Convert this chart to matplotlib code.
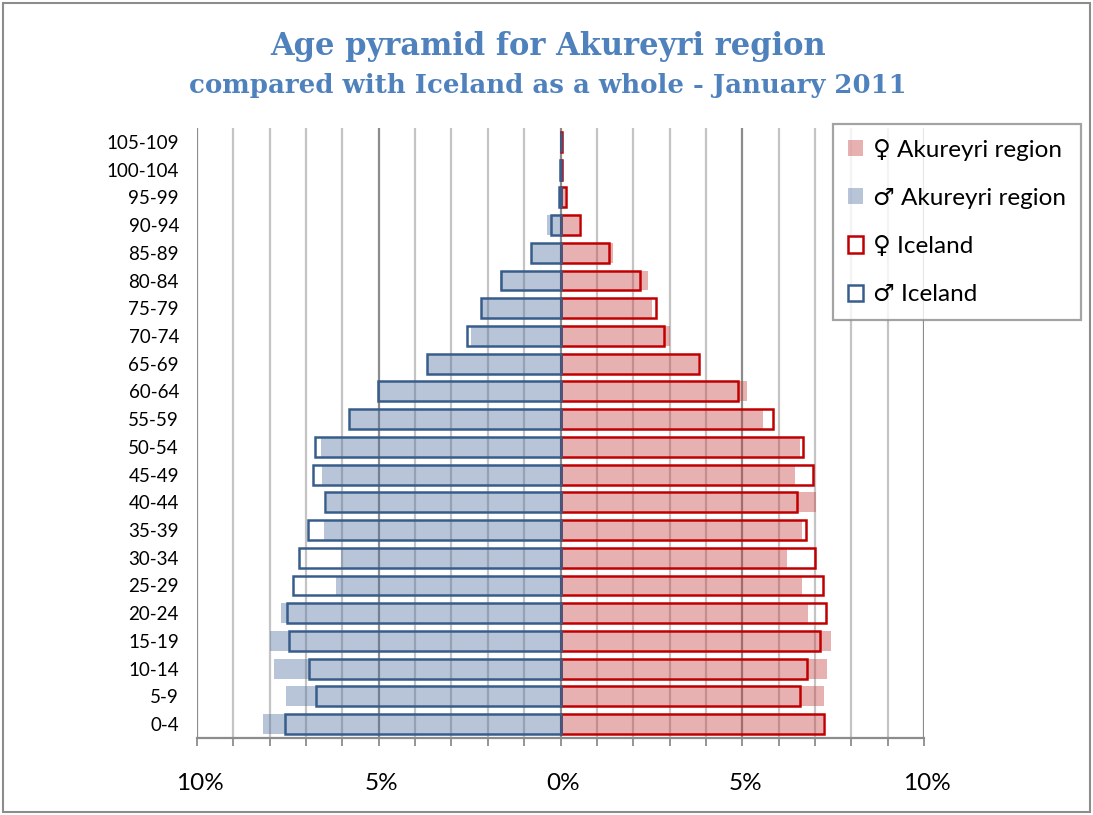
import numpy as np
import matplotlib
matplotlib.use('Agg')
import matplotlib.pyplot as plt
from matplotlib.patches import Patch, Rectangle
from matplotlib.transforms import ScaledTranslation

# Age groups, youngest first (bottom of the pyramid)
age_groups = ['0-4', '5-9', '10-14', '15-19', '20-24', '25-29', '30-34', '35-39',
              '40-44', '45-49', '50-54', '55-59', '60-64', '65-69', '70-74', '75-79',
              '80-84', '85-89', '90-94', '95-99', '100-104', '105-109']

# Share of population in %
akureyri_male = [8.18, 7.55, 7.88, 7.99, 7.69, 6.17, 6.05, 6.50, 6.43, 6.56, 6.58,
                 5.78, 5.02, 3.67, 2.46, 2.20, 1.67, 0.78, 0.37, 0.04, 0.02, 0.0]
iceland_male = [7.58, 6.72, 6.92, 7.46, 7.53, 7.37, 7.19, 6.95, 6.49, 6.81, 6.76,
                5.81, 5.02, 3.67, 2.57, 2.20, 1.63, 0.80, 0.26, 0.04, 0.01, 0.0]
akureyri_female = [7.22, 7.25, 7.33, 7.44, 6.80, 6.65, 6.23, 6.64, 7.04, 6.45, 6.59,
                   5.56, 5.12, 3.77, 3.00, 2.53, 2.40, 1.45, 0.50, 0.12, 0.03, 0.03]
iceland_female = [7.25, 6.58, 6.78, 7.14, 7.31, 7.21, 7.01, 6.76, 6.51, 6.95, 6.68,
                  5.84, 4.87, 3.81, 2.84, 2.62, 2.19, 1.33, 0.53, 0.14, 0.04, 0.05]

x_ticks = [-10, -5, 0, 5, 10]
x_tick_labels = ['10%', '5%', '0%', '5%', '10%']

# Cores
cor_fem_fill = (0.78, 0.24, 0.24)
cor_mas_fill = (0.31, 0.44, 0.62)
cor_fem_edge = '#C00000'
cor_mas_edge = '#385D8A'
cor_titulo = '#4F81BD'

plt.rcParams['font.family'] = ['Lato', 'DejaVu Sans']

fig = plt.figure(figsize=(10.93, 8.15), dpi=100)
ax = fig.add_axes([197 / 1093, 1 - 738 / 815, 727 / 1093, 610 / 815])

y = np.arange(len(age_groups))
h = 0.72

# Grid lines (every 1%, darker every 5%)
for v in range(-10, 11):
    cor = '#8C8C8C' if v % 5 == 0 else '#C4C4C4'
    ax.axvline(v, color=cor, lw=1.6, zorder=0)

# Akureyri (filled, semi transparent)
ax.barh(y, akureyri_female, height=h, color=cor_fem_fill, alpha=0.4, lw=0, zorder=1)
ax.barh(y, -np.array(akureyri_male), height=h, color=cor_mas_fill, alpha=0.4, lw=0, zorder=1)

# Iceland (outline only)
ax.barh(y, iceland_female, height=h, fill=False, edgecolor=cor_fem_edge, lw=1.8, zorder=2)
ax.barh(y, -np.array(iceland_male), height=h, fill=False, edgecolor=cor_mas_edge, lw=1.8, zorder=2)

ax.set_xlim(-10, 10)
ax.set_ylim(-0.5, len(age_groups) - 0.5)

ax.set_yticks(y)
ax.set_yticklabels(age_groups, fontsize=13.5)
ax.tick_params(axis='y', length=0, pad=13)

ax.set_xticks(x_ticks)
ax.set_xticklabels(x_tick_labels, fontsize=17.5)
ax.set_xticks(range(-10, 11), minor=True)
ax.tick_params(axis='x', which='both', direction='out', length=6, width=1.3,
               color='#8C8C8C', pad=19)
offset = ScaledTranslation(3 / 100, 0, fig.dpi_scale_trans)
for lbl in ax.get_xticklabels():
    lbl.set_transform(lbl.get_transform() + offset)

for lado in ['top', 'right', 'left']:
    ax.spines[lado].set_visible(False)
ax.spines['bottom'].set_color('#8C8C8C')
ax.spines['bottom'].set_linewidth(1.6)

# Titulo
fig.text(548 / 1093, 1 - 46 / 815, 'Age pyramid for Akureyri region',
         ha='center', va='center', fontsize=22, fontweight='bold',
         color=cor_titulo, family='DejaVu Serif')
fig.text(548 / 1093, 1 - 86 / 815, 'compared with Iceland as a whole - January 2011',
         ha='center', va='center', fontsize=18.7, fontweight='bold',
         color=cor_titulo, family='DejaVu Serif')

# Legenda
handles = [
    Patch(facecolor=cor_fem_fill, alpha=0.4, lw=0),
    Patch(facecolor=cor_mas_fill, alpha=0.4, lw=0),
    Patch(facecolor='white', edgecolor=cor_fem_edge, lw=1.8),
    Patch(facecolor='white', edgecolor=cor_mas_edge, lw=1.8),
]
labels = ['\u2640 Akureyri region', '\u2642 Akureyri region',
          '\u2640 Iceland', '\u2642 Iceland']
leg = fig.legend(handles, labels, loc='upper left',
                 bbox_to_anchor=(833 / 1093, 1 - 124 / 815),
                 fontsize=17.5, frameon=True, fancybox=False,
                 handlelength=0.65, handleheight=0.65, handletextpad=0.4,
                 labelspacing=1.12, borderpad=0.6, borderaxespad=0)
leg.get_frame().set_edgecolor('#8C8C8C')
leg.get_frame().set_linewidth(1.6)

# Borda do grafico
fig.patches.append(Rectangle((0.003, 0.004), 0.994, 0.992, transform=fig.transFigure,
                             fill=False, edgecolor='#8C8C8C', lw=1.5))

fig.savefig('out.png', dpi=100)
plt.close(fig)
